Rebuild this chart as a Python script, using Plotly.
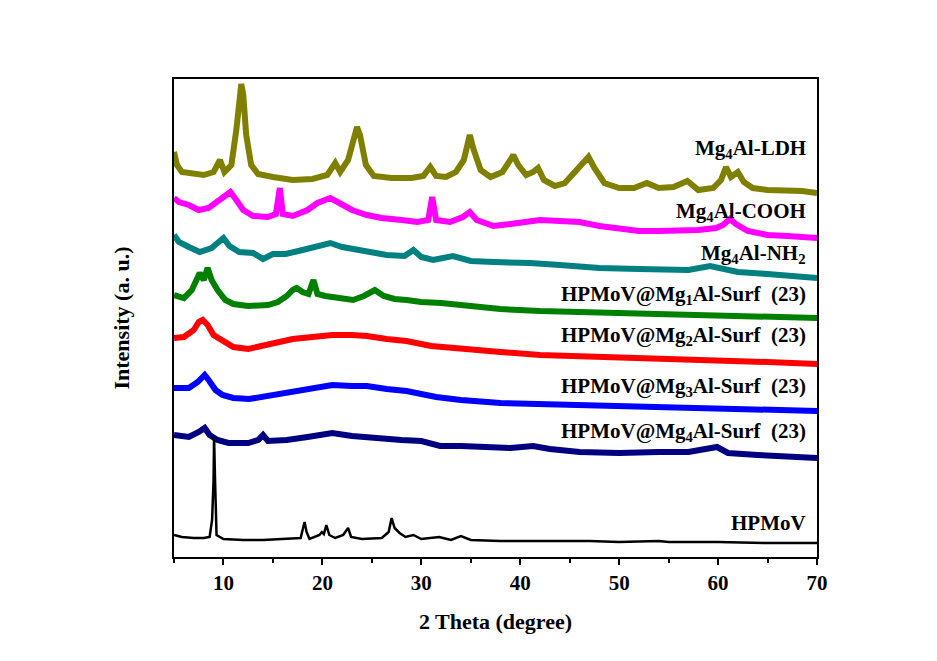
import plotly.graph_objects as go

# ---- data (2 Theta in degrees, intensity in arbitrary units, stacked offsets included) ----
ldh_x = [5.0,5.3,5.8,7.0,8.0,9.0,9.65,10.1,10.8,11.3,11.6,11.8,12.0,12.3,12.8,13.5,15,17,19,20.5,21.3,21.8,22.6,23.2,23.5,23.8,24.4,25.2,27,29,30.2,30.9,31.5,32.5,33.5,34.3,34.9,35.3,36,37,38.2,39.0,39.3,39.8,40.6,41.3,41.8,42.4,43.5,44.5,45.5,46.5,46.9,47.5,48.5,50,51.5,52.8,54,55.5,56.9,58,59.5,60.3,60.8,61.3,62.0,62.6,63.5,65,67,68.5,70]
ldh_y = [405,392,385,384,382,385,397,385,392,427,462,473,462,422,392,383,380,377,378,382,394,385,397,422,430,422,392,381,379,379,381,390,381,380,385,397,422,407,387,380,385,397,402,392,382,385,389,377,371,374,385,397,400,389,374,369,369,374,369,370,376,367,369,377,390,380,385,375,369,367,367,366,364]

cooh_x = [5.0,5.5,6.5,7.5,8.5,9.5,10.2,10.7,11.3,12.0,13.0,14.5,15.3,15.7,16.0,17.0,18.5,19.5,20.8,21.8,23.0,24.5,26,28,29.6,30.7,31.1,31.5,32.9,34.2,34.9,35.6,37.3,39.0,40.5,42,44,46,48,50,52,54,56,58,59.8,60.5,61.2,61.8,63,65,67,68.5,70]
cooh_y = [359,355,352,347,349,357,362,365,357,347,341,340,343,369,343,341,347,354,359,354,347,342,339,337,335,337,360,337,335,340,345,337,331,333,335,337,336,335,331,328,326,326,326,327,329,332,338,333,326,322,321,320,319]

nh2_x = [5.0,5.5,6.5,7.6,8.8,9.5,10.0,10.6,11.6,13.0,14.0,15.0,16.3,18,19.5,20.8,22,24.5,26.5,28.3,29.2,30.0,31.2,33.2,35,37.3,38.5,41,44,48,52,55,57,59.2,60,62,65,67.5,70]
nh2_y = [322,315,310,305,309,315,319,311,305,304,298,303,303,307,311,314,310,305,302,301,307,300,297,301,296,295,295,294,292,289,288,288,287,291,289,285,283,281,279]

mg1_x = [5.0,6.0,6.8,7.3,7.6,8.0,8.4,8.8,9.4,10.2,11.0,12.5,14.5,15.5,16.4,17.0,17.4,18.0,18.6,19.1,19.5,20.3,21.1,22.1,23.1,24.2,25.3,26.2,27.3,28.5,30,32,35,38,42,46,50,55,60,65,70]
mg1_y = [262,259,267,279,284,277,289,277,267,257,253,251,252,255,261,267,269,265,263,277,263,261,260,258,257,261,267,261,258,257,255,254,251,248,246,245,244,243,242,241,239]

mg2_x = [5.0,6.0,7.0,7.5,7.9,8.4,9.0,9.9,11.0,12.5,14.0,15.5,17,19,21,23,24.5,26.5,28.5,31,34,38,42,46,50,55,60,65,70]
mg2_y = [219,220,227,235,237,232,222,217,210,208,211,215,218,220,222,222,221,218,216,211,208,205,202,201,200,198,196,195,193]

mg3_x = [5.0,6.5,7.4,8.1,8.5,9.2,9.9,11,12.6,14.5,16.4,18.5,21,23,24.5,26.5,28.5,31.5,34,38,42,46,50,55,60,65,70]
mg3_y = [169,169,175,182,177,167,162,159,158,161,165,168,172,171,171,168,166,160,157,154,153,151,150,149,148,147,146]

mg4_x = [5.0,6.5,7.5,8.1,8.6,9.4,10.5,12.5,13.5,14.0,14.5,16.4,18.5,21,23,25,28,30,31.9,34,37,39,41.3,43,46,50,54,57,59.9,61,64,67,70]
mg4_y = [122,120,125,129,122,117,114,114,117,122,116,117,120,124,121,119,117,116,111,111,110,109,111,108,105,104,105,105,110,104,102,101,99]

hpmov_x = [5.0,5.8,7.0,8.0,8.6,8.85,9.0,9.05,9.15,9.3,10,12,14,16,17.8,18.0,18.2,18.4,18.7,19.7,19.95,20.15,20.4,20.7,21.3,22.1,22.6,22.9,24,26,26.7,27.0,27.3,27.8,28.4,29.2,30,31.8,33,34,35,38,42,47,50,54,55,60,65,70]
hpmov_y = [22,20,19,19,20,37,77,121,77,22,18,17,17,18,19,27,35,25,18,22,25,23,32,22,19,22,29,20,18,19,25,39,29,24,20,22,18,20,17,21,17,16,16,16,15,16,15,15,14,14]

names = ["Mg<sub>4</sub>Al-LDH", "Mg<sub>4</sub>Al-COOH", "Mg<sub>4</sub>Al-NH<sub>2</sub>",
         "HPMoV@Mg<sub>1</sub>Al-Surf&nbsp; (23)", "HPMoV@Mg<sub>2</sub>Al-Surf&nbsp; (23)",
         "HPMoV@Mg<sub>3</sub>Al-Surf&nbsp; (23)", "HPMoV@Mg<sub>4</sub>Al-Surf&nbsp; (23)", "HPMoV"]
label_y = [408, 345, 303, 262, 221, 170, 125, 34]

series = [(ldh_x, ldh_y), (cooh_x, cooh_y), (nh2_x, nh2_y), (mg1_x, mg1_y),
          (mg2_x, mg2_y), (mg3_x, mg3_y), (mg4_x, mg4_y), (hpmov_x, hpmov_y)]
colors = ["#808000", "#FF00FF", "#008080", "#008000", "#FF0000", "#0000FF", "#000080", "#000000"]
widths = [6, 6, 6, 6, 6, 6, 6, 2.5]

FONT = "Liberation Serif, Times New Roman, serif"

fig = go.Figure()
for (xs, ys), c, w, n in zip(series, colors, widths, names):
    fig.add_trace(go.Scatter(x=xs, y=ys, mode="lines", line=dict(color=c, width=w),
                             name=n, showlegend=False, hoverinfo="skip"))

for n, ly in zip(names, label_y):
    fig.add_annotation(x=69.1, y=ly, xref="x", yref="y", text="<b>" + n + "</b>",
                       showarrow=False, xanchor="right", yanchor="middle",
                       font=dict(family=FONT, size=21, color="black"))

fig.update_layout(
    width=937, height=661,
    margin=dict(l=174, r=120, t=79, b=104),
    paper_bgcolor="white", plot_bgcolor="white",
    font=dict(family=FONT, color="black"),
)
fig.update_xaxes(
    range=[5, 70], tick0=0, dtick=10, ticks="outside", ticklen=6, tickwidth=2,
    tickcolor="black", showline=True, linewidth=2, linecolor="black", mirror=True,
    showgrid=False, zeroline=False,
    tickfont=dict(family=FONT, size=21, color="black", weight="bold"),
    minor=dict(dtick=5, tick0=0, ticks="outside", ticklen=4, tickwidth=2, tickcolor="black", showgrid=False),
    title=dict(text="<b>2 Theta (degree)</b>", font=dict(family=FONT, size=22, color="black"), standoff=19),
)
fig.update_yaxes(
    range=[0, 478], showticklabels=False, ticks="", showline=True, linewidth=2,
    linecolor="black", mirror=True, showgrid=False, zeroline=False,
    title=dict(text="<b>Intensity (a. u.)</b>", font=dict(family=FONT, size=22, color="black"), standoff=36),
)

fig.write_html("out.html")
